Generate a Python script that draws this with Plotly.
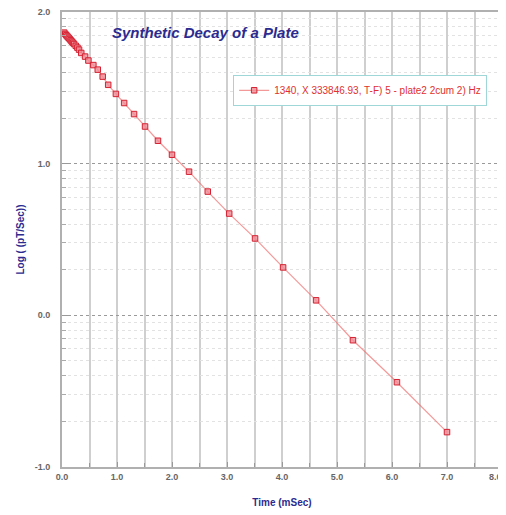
import math
import plotly.graph_objects as go

# Time gates (mSec) and log response
time_ms = [0.04, 0.06, 0.08, 0.10, 0.12, 0.14, 0.16, 0.18, 0.20, 0.22, 0.25, 0.28, 0.31,
           0.35, 0.42, 0.48, 0.57, 0.65, 0.74, 0.84, 0.98, 1.13, 1.31, 1.51, 1.745,
           2.00, 2.31, 2.65, 3.04, 3.51, 4.02, 4.62, 5.29, 6.09, 7.00]
log_resp = [1.864, 1.855, 1.846, 1.838, 1.830, 1.822, 1.813, 1.805, 1.797, 1.789, 1.777, 1.765, 1.752,
            1.730, 1.706, 1.680, 1.650, 1.620, 1.574, 1.520, 1.460, 1.400, 1.327, 1.245, 1.151,
            1.059, 0.947, 0.816, 0.671, 0.507, 0.316, 0.099, -0.164, -0.441, -0.770]

series_name = "1340, X 333846.93, T-F) 5 - plate2 2cum 2) Hz"
x_ticks = [0, 1, 2, 3, 4, 5, 6, 7, 8]
x_labels = ["0.0", "1.0", "2.0", "3.0", "4.0", "5.0", "6.0", "7.0", ""]
last_x_label = "8.0"   # drawn right-aligned so it stays inside the window
y_ticks = [-1, 0, 1, 2]
y_labels = ["-1.0", "0.0", "1.0", "2.0"]

# log-decade minor ticks on y
minor_y = []
for d in [-1, 0, 1]:
    for k in range(2, 10):
        minor_y.append(d + math.log10(k))

fig = go.Figure()
fig.add_trace(go.Scatter(
    x=time_ms, y=log_resp, name=series_name,
    mode="lines+markers",
    line=dict(color="rgba(240,110,110,0.7)", width=1.2),
    marker=dict(symbol="square", size=5.5, color="rgba(240,140,150,0.8)",
                line=dict(color="#d42030", width=1)),
))

fig.add_annotation(
    text="<b><i>Synthetic Decay of a Plate</i></b>",
    x=0.325, y=0.956, xref="paper", yref="paper", showarrow=False,
    xanchor="center", yanchor="middle",
    font=dict(family="Arial", size=15, color="#2b2b8f"),
)

axis_font = dict(family="Arial", size=9, color="#666666", weight="bold")

fig.add_annotation(
    text=last_x_label, x=x_ticks[-1], y=0, xref="x", yref="paper",
    xanchor="right", yanchor="top", xshift=2, yshift=-3,
    showarrow=False, font=axis_font,
)

# page body has an 8px margin, so the figure is sized to the remaining window
fig.update_layout(
    width=498, height=507,
    margin=dict(l=54, r=4, t=4, b=48),
    paper_bgcolor="white", plot_bgcolor="white",
    showlegend=True,
    legend=dict(x=0.389, y=0.862, xanchor="left", yanchor="top",
                bgcolor="white", bordercolor="#9fd6d8", borderwidth=1,
                itemwidth=30, tracegroupgap=0,
                font=dict(family="Arial", size=10, color="#e03030")),
    xaxis=dict(
        range=[0, 8], tickmode="array", tickvals=x_ticks, ticktext=x_labels,
        ticks="inside", ticklen=5, tickcolor="#999999", automargin=False,
        ticklabeloverflow="allow",
        showgrid=True, gridcolor="#cfcfcf", gridwidth=1.5,
        minor=dict(dtick=0.5, tick0=0, showgrid=True, gridcolor="#cfcfcf", gridwidth=1.5,
                   ticks="inside", ticklen=4, tickcolor="#999999"),
        showline=True, linecolor="#b0b0b0", linewidth=2, mirror=True,
        zeroline=False, tickfont=axis_font,
        title=dict(text="<b>Time (mSec)</b>", standoff=18,
                   font=dict(family="Arial", size=10, color="#2b2b8f")),
    ),
    yaxis=dict(
        range=[-1, 2], tickmode="array", tickvals=y_ticks, ticktext=y_labels,
        ticks="inside", ticklen=6, tickcolor="#999999", automargin=False,
        ticklabelstandoff=8, ticklabeloverflow="allow",
        showgrid=True, gridcolor="#9a9a9a", gridwidth=1, griddash="dot",
        minor=dict(tickmode="array", tickvals=minor_y, ticks="inside", ticklen=4,
                   tickcolor="#aaaaaa", showgrid=True, gridcolor="#e2e2e2", griddash="dot"),
        showline=True, linecolor="#b0b0b0", linewidth=2, mirror=True,
        zeroline=False, tickfont=axis_font,
        title=dict(text="<b>Log ( (pT/Sec))</b>", standoff=8,
                   font=dict(family="Arial", size=10, color="#2b2b8f")),
    ),
)

fig.write_html("out.html")
